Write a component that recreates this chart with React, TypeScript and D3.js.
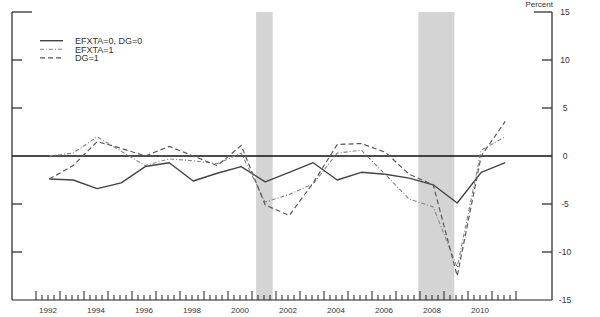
import React from "react";
import * as d3 from "d3";

const years = [1992, 1993, 1994, 1995, 1996, 1997, 1998, 1999, 2000, 2001, 2002, 2003, 2004, 2005, 2006, 2007, 2008, 2009, 2010, 2011];
const baseSeries = [-2.4, -2.5, -3.4, -2.8, -1.1, -0.7, -2.6, -1.8, -1.1, -2.7, -1.7, -0.7, -2.5, -1.7, -1.9, -2.3, -3.0, -4.9, -1.7, -0.7];
const efxtaSeries = [0.0, 0.3, 2.0, 0.5, -1.0, -0.3, -0.5, -0.8, 0.3, -4.8, -4.0, -2.9, 0.3, 0.6, -1.9, -4.5, -5.3, -11.6, 0.6, 2.0];
const dgSeries = [-2.4, -1.0, 1.5, 0.8, 0.0, 1.0, 0.0, -1.0, 1.1, -5.1, -6.2, -2.8, 1.2, 1.3, 0.4, -1.9, -3.0, -12.5, 0.0, 3.6];
const seriesNames = ["EFXTA=0, DG=0", "EFXTA=1", "DG=1"];
const yTicks = [15, 10, 5, 0, -5, -10, -15];
const xLabelYears = [1992, 1994, 1996, 1998, 2000, 2002, 2004, 2006, 2008, 2010];
const recessions: [number, number][] = [[2001.17, 2001.86], [2007.93, 2009.43]];

const FONT = "'Liberation Sans', Arial, sans-serif";

export default function App() {
  const left = 12, right = 552, top = 12, bottom = 300;
  const x = d3.scaleLinear().domain([1991, 2013.5]).range([left, right]);
  const y = d3.scaleLinear().domain([-15, 15]).range([bottom, top]);

  const styles = [
    { stroke: "#444", width: 1.4, dash: "" },
    { stroke: "#858585", width: 1.1, dash: "4,2,1,2" },
    { stroke: "#5a5a5a", width: 1.2, dash: "5,3" },
  ];
  const data = [baseSeries, efxtaSeries, dgSeries];
  const line = d3
    .line<number>()
    .x((_, i) => x(years[i] + 0.55))
    .y((d) => y(d));

  const quarterTicks: number[] = [];
  for (let t = 1992; t <= 2012.001; t += 0.25) quarterTicks.push(Math.round(t * 100) / 100);

  return (
    <svg width={600} height={317} style={{ position: "absolute", left: 0, top: 0, background: "#fff" }}>
      {recessions.map(([a, b], i) => (
        <rect key={i} x={x(a)} y={top} width={x(b) - x(a)} height={bottom - top} fill="#d4d4d4" />
      ))}
      {/* zero line */}
      <line x1={left} x2={right} y1={y(0)} y2={y(0)} stroke="#111" strokeWidth={1.3} />
      {/* axes */}
      <line x1={left} x2={left} y1={top} y2={bottom} stroke="#222" strokeWidth={1.2} />
      <line x1={right} x2={right} y1={top} y2={bottom} stroke="#222" strokeWidth={1.2} />
      <line x1={left} x2={right} y1={bottom} y2={bottom} stroke="#222" strokeWidth={1.2} />
      {yTicks.map((t) => (
        <g key={t}>
          {t !== -15 && t !== 0 && (
            <>
              <line x1={left} x2={left + (t === 15 ? 20 : 10)} y1={y(t)} y2={y(t)} stroke="#222" strokeWidth={1.2} />
              <line x1={right - (t === 15 ? 18 : 10)} x2={right} y1={y(t)} y2={y(t)} stroke="#222" strokeWidth={1.2} />
            </>
          )}
          <text x={565} y={y(t) + 3} fontSize={8.5} fontFamily={FONT} textAnchor="middle" fill="#333">
            {t}
          </text>
        </g>
      ))}
      <text x={553} y={7} fontSize={8} fontFamily={FONT} textAnchor="end" fill="#333">
        Percent
      </text>
      {quarterTicks.map((t) => {
        const major = Math.abs(t - Math.round(t)) < 0.01;
        return (
          <line key={t} x1={x(t)} x2={x(t)} y1={bottom} y2={bottom - (major ? 9 : 5)} stroke="#222" strokeWidth={1} />
        );
      })}
      {xLabelYears.map((yr) => (
        <text key={yr} x={x(yr + 0.5)} y={313} fontSize={8} fontFamily={FONT} textAnchor="middle" fill="#333">
          {yr}
        </text>
      ))}
      {data.map((s, i) => (
        <path
          key={i}
          d={line(s) || ""}
          fill="none"
          stroke={styles[i].stroke}
          strokeWidth={styles[i].width}
          strokeDasharray={styles[i].dash}
          strokeLinejoin="round"
        />
      ))}
      {seriesNames.map((n, i) => {
        const ly = 40.7 + i * 8.6;
        return (
          <g key={n}>
            <line x1={40} x2={63} y1={ly} y2={ly} stroke={styles[i].stroke} strokeWidth={styles[i].width} strokeDasharray={styles[i].dash} />
            <text x={75} y={ly + 3.3} fontSize={9} fontFamily={FONT} fill="#333">
              {n}
            </text>
          </g>
        );
      })}
    </svg>
  );
}
